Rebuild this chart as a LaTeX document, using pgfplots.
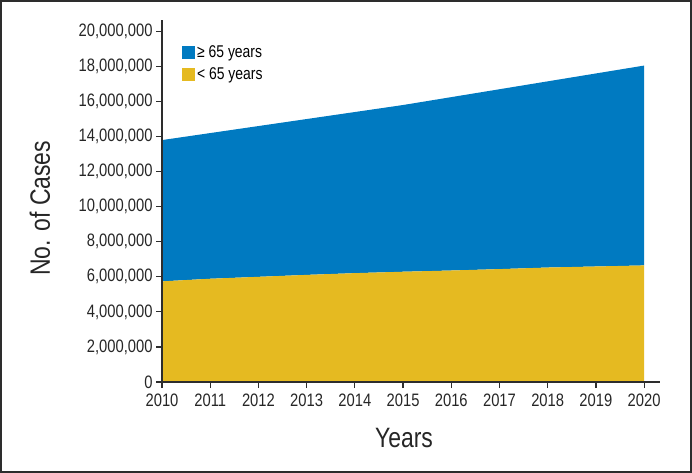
\documentclass[border=0pt]{standalone}
\usepackage{fontspec}
\setmainfont{Liberation Sans}[FakeStretch=0.82]
\usepackage{pgfplots}
\pgfplotsset{compat=1.18}
\definecolor{oldblue}{RGB}{0,122,193}
\definecolor{youngyel}{RGB}{229,186,33}
\definecolor{axgray}{RGB}{45,45,45}

\begin{document}
\begin{tikzpicture}
\draw[axgray,line width=2bp,use as bounding box] (1bp,1bp) rectangle (691bp,472bp);
\begin{axis}[
  at={(162bp,91bp)},anchor=south west,
  scale only axis,width=498bp,height=362bp,
  xmin=2010,xmax=2020.33,ymin=0,ymax=20650000,
  axis lines=left,axis line style={-,axgray,line width=1.5bp},
  axis on top,
  tick align=outside,major tick length=6bp,
  tick style={axgray,line width=1.2bp},
  xtick distance=1,
  ytick={0,2000000,4000000,6000000,8000000,10000000,12000000,14000000,16000000,18000000,20000000},
  scaled y ticks=false,
  /pgf/number format/assume math mode=true,
  xticklabel style={/pgf/number format/1000 sep=,font=\fontsize{18bp}{20bp}\selectfont,text=black!85,yshift=-2bp},
  yticklabel style={/pgf/number format/.cd,fixed,1000 sep={,},/tikz/.cd,font=\fontsize{18bp}{20bp}\selectfont,text=black!85},
  xlabel={Years},ylabel={No. of Cases},
  xlabel style={at={(axis description cs:0.486,-0.182)},anchor=base,font=\fontsize{28bp}{30bp}\selectfont,text=black!85},
  ylabel style={at={(axis description cs:-0.245,0.48)},anchor=center,rotate=0,font=\fontsize{28bp}{30bp}\selectfont,text=black!85},
  stack plots=y,
  legend style={at={(axis description cs:0.04,0.935)},anchor=north west,draw=none,fill=none,
    font=\fontsize{17bp}{19bp}\selectfont,row sep=5bp,inner sep=0pt},
  legend cell align=left,
  reverse legend,
  legend image code/.code={\fill[#1] (0bp,-6.5bp) rectangle (13bp,6.5bp);},
]
% under 65
\addplot[fill=youngyel,draw=none] coordinates {
(2010,5740000)(2011,5890000)(2012,6000000)(2013,6110000)(2014,6210000)(2015,6290000)
(2016,6360000)(2017,6440000)(2018,6530000)(2019,6590000)(2020,6650000)} \closedcycle;
% 65 and over (stacked on top)
\addplot[fill=oldblue,draw=none] coordinates {
(2010,8060000)(2011,8310000)(2012,8600000)(2013,8890000)(2014,9190000)(2015,9510000)
(2016,9890000)(2017,10260000)(2018,10620000)(2019,11010000)(2020,11400000)} \closedcycle;
\legend{< 65 years,≥ 65 years}
\end{axis}
\end{tikzpicture}
\end{document}
